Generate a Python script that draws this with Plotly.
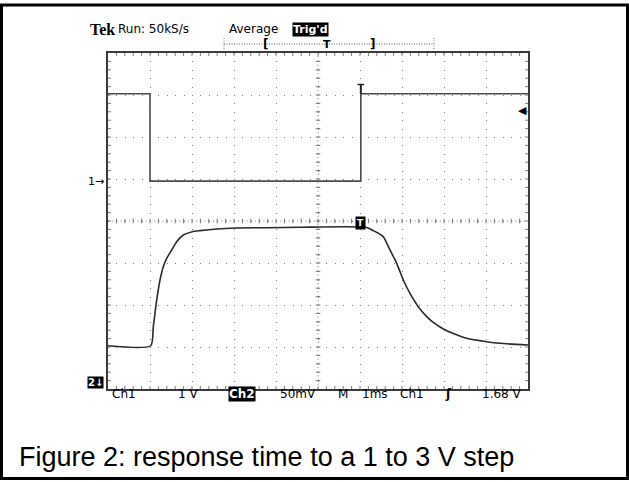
import plotly.graph_objects as go

# ---------------- data ----------------
time_ch1_ms = [-5.0, -4.0, -4.0, 1.02, 1.02, 5.0]
ch1_volts = [2.08, 2.08, 0.0, 0.0, 2.08, 2.08]

time_ch2_ms = [-5.0, -3.983, -3.921, -3.840, -3.762, -3.683, -3.602, -3.483, -3.364,
               -3.207, -2.993, -2.810, -2.412, -1.983, -1.221, -0.429, 1.160, 1.317,
               1.436, 1.555, 1.714, 1.874, 2.031, 2.190, 2.388, 2.588, 2.745, 2.983,
               3.221, 3.540, 4.017, 4.333, 5.0]
ch2_mv = [41.5, 41.5, 64.2, 96.0, 119.8, 135.6, 145.6, 155.5, 165.4,
          173.3, 177.3, 178.5, 180.5, 181.7, 182.0, 182.5, 182.3, 178.5,
          175.4, 171.3, 155.5, 139.6, 119.8, 103.9, 88.0, 76.1, 69.2, 61.4,
          56.0, 50.4, 46.3, 44.4, 42.4]

ch1_v_per_div = 1.0
ch2_mv_per_div = 50.0
ch1_offset_div = 0.95
ch2_offset_div = -3.8
trigger_time_ms = 1.02
trigger_level_v = 1.68

header_run = "Run: 50kS/s"
header_mode = "Average"
header_state = "Trig'd"
bottom_labels = ["Ch1", "1 V", "Ch2", "50mV", "M", "1ms", "Ch1", "1.68 V"]
caption = "Figure 2: response time to a 1 to 3 V step"

# ---------------- geometry helpers ----------------
W, H = 629, 482
L, R, T, B = 108, 528, 53, 389
PW, PH = R - L, B - T


def px(x):
    return (x - L) / PW


def py(y):
    return (B - y) / PH


ch1_div = [v / ch1_v_per_div + ch1_offset_div for v in ch1_volts]
ch2_div = [v / ch2_mv_per_div + ch2_offset_div for v in ch2_mv]

fig = go.Figure()
fig.add_trace(go.Scatter(x=time_ch1_ms, y=ch1_div, mode="lines",
                         line=dict(color="#4a4a4a", width=1.6), hoverinfo="skip"))
fig.add_trace(go.Scatter(x=time_ch2_ms, y=ch2_div, mode="lines", line_shape="spline",
                         line=dict(color="#2a2a2a", width=1.6, smoothing=0.6),
                         hoverinfo="skip"))

shapes = []
grid_col = "#7a7a7a"
tl = 0.07  # tick length in divisions (~3px)
ct = 0.055
for k in range(-24, 25):
    xv = k * 0.2
    for (y0, y1) in [(4, 4 - tl), (-4, -4 + tl), (-ct, ct)]:
        shapes.append(dict(type="line", xref="x", yref="y", x0=xv, x1=xv, y0=y0, y1=y1,
                           line=dict(color=grid_col, width=1)))
for k in range(-19, 20):
    yv = k * 0.2
    for (x0, x1) in [(-5, -5 + tl), (5, 5 - tl), (-ct, ct)]:
        shapes.append(dict(type="line", xref="x", yref="y", x0=x0, x1=x1, y0=yv, y1=yv,
                           line=dict(color=grid_col, width=1)))
shapes.append(dict(type="line", xref="x", yref="y", x0=0, x1=0, y0=-4, y1=4,
                   line=dict(color=grid_col, width=1, dash="1px,3.2px")))
shapes.append(dict(type="line", xref="x", yref="y", x0=-5, x1=5, y0=0, y1=0,
                   line=dict(color=grid_col, width=1, dash="1px,3.2px")))

# trigger "T" on ch1 edge
hi = ch1_div[-1]
shapes.append(dict(type="line", xref="x", yref="y", x0=trigger_time_ms - 0.08,
                   x1=trigger_time_ms + 0.08, y0=hi + 0.22, y1=hi + 0.22,
                   line=dict(color="#222", width=1.5)))
shapes.append(dict(type="line", xref="x", yref="y", x0=trigger_time_ms, x1=trigger_time_ms,
                   y0=hi, y1=hi + 0.22, line=dict(color="#222", width=2)))

# record bracket line at top
shapes.append(dict(type="line", xref="paper", yref="paper", x0=px(224), x1=px(434),
                   y0=py(44), y1=py(44), line=dict(color="#555", width=1, dash="1px,1.5px")))
for xx in (224, 434):
    shapes.append(dict(type="line", xref="paper", yref="paper", x0=px(xx), x1=px(xx),
                       y0=py(38), y1=py(50), line=dict(color="#777", width=1, dash="1px,1.5px")))

# outer frame of the figure
shapes.append(dict(type="rect", xref="paper", yref="paper", x0=px(1.5), x1=px(627.5),
                   y0=py(478.5), y1=py(5), line=dict(color="black", width=3)))

ann = []
scope_font = "DejaVu Sans"


def text(x, y, s, size=12, color="black", anchor="left", bg=None, family=scope_font, yanchor="middle"):
    d = dict(x=px(x), y=py(y), xref="paper", yref="paper", text=s, showarrow=False,
             xanchor=anchor, yanchor=yanchor,
             font=dict(family=family, size=size, color=color))
    if bg:
        d["bgcolor"] = bg
        d["borderpad"] = 0
    ann.append(d)


text(88, 29, "<b>Tek</b>", size=16, family="Liberation Serif")
text(116, 29, header_run, size=12)
text(227, 29, header_mode, size=12)
text(292, 29, "<b>" + header_state + "</b>", size=11, color="white", bg="black")
text(265, 44, "<b>[</b>", size=12, anchor="center")
text(327, 44, "<b>T</b>", size=11, anchor="center")
text(372, 44, "<b>]</b>", size=12, anchor="center")

ann.append(dict(x=px(106), y=ch1_offset_div, xref="paper", yref="y", text="1→",
                showarrow=False, xanchor="right", yanchor="middle",
                font=dict(family=scope_font, size=11, color="black")))
ann.append(dict(x=4.86, y=trigger_level_v / ch1_v_per_div + ch1_offset_div, xref="x", yref="y",
                text="◀", showarrow=False, xanchor="center", yanchor="middle",
                font=dict(family=scope_font, size=11, color="black")))
ann.append(dict(x=trigger_time_ms, y=-0.05, xref="x", yref="y", text="<b>T</b>",
                showarrow=False, xanchor="center", yanchor="middle", bgcolor="black",
                borderpad=1, font=dict(family=scope_font, size=9, color="white")))
text(87, 382, "<b>2↓</b>", size=10, color="white", bg="black")

xs = [110, 176, 228, 278, 336, 360, 398]
for xx, lab in zip(xs, bottom_labels[:7]):
    if lab == "Ch2" and xx == 228:
        text(xx, 394, "<b>" + lab + "</b>", size=12, color="white", bg="black")
    else:
        text(xx, 394, lab, size=12)
text(448, 394, "<b>ʃ</b>", size=12, anchor="center")
text(524, 394, bottom_labels[7], size=12, anchor="right")

text(17, 457, caption, size=27, family="Liberation Sans")

fig.update_layout(
    width=W, height=H, margin=dict(l=L, r=W - R, t=T, b=H - B, pad=0),
    paper_bgcolor="white", plot_bgcolor="white", showlegend=False,
    shapes=shapes, annotations=ann,
    xaxis=dict(range=[-5, 5], tick0=-5, dtick=1, showgrid=True, gridcolor=grid_col,
               griddash="1px,7.4px", gridwidth=1, zeroline=False, showticklabels=False,
               ticks="", showline=True, mirror=True, linecolor="#3a3a3a", linewidth=2,
               fixedrange=True),
    yaxis=dict(range=[-4, 4], tick0=-4, dtick=1, showgrid=True, gridcolor=grid_col,
               griddash="1px,7.4px", gridwidth=1, zeroline=False, showticklabels=False,
               ticks="", showline=True, mirror=True, linecolor="#3a3a3a", linewidth=2,
               fixedrange=True),
)

fig.write_html("out.html", config={"displayModeBar": False},
               post_script="document.body.style.margin='0';document.body.style.overflow='hidden';")
